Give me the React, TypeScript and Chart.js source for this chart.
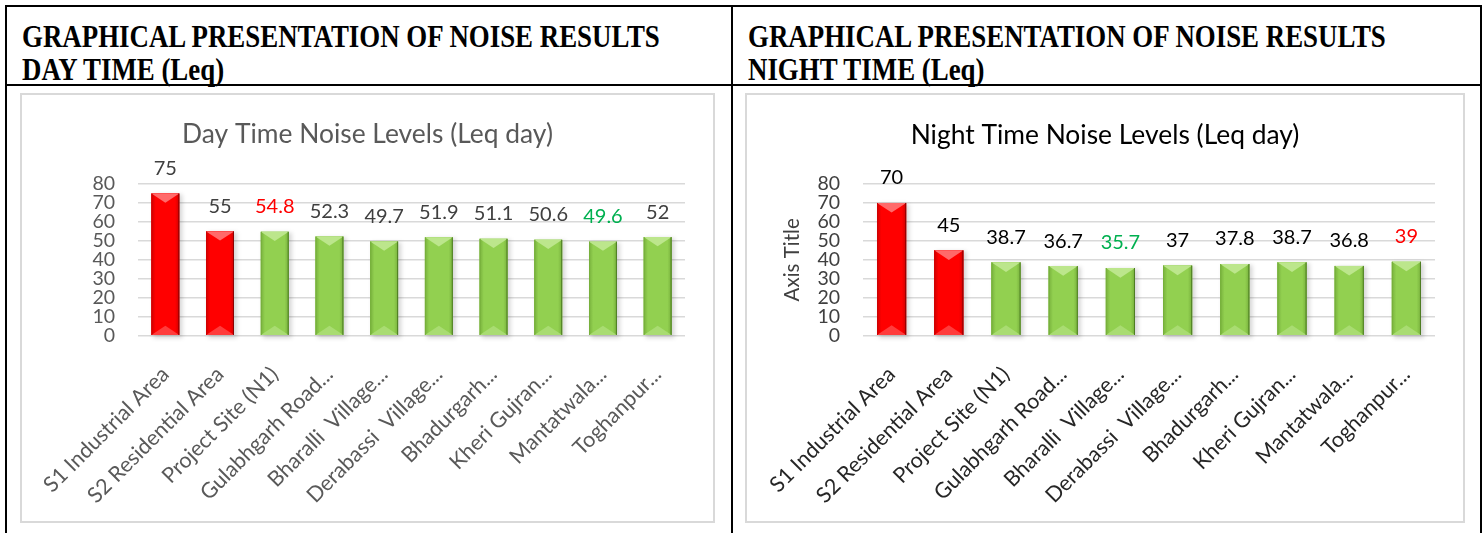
import React, { useEffect, useRef } from 'react';
import { Chart, registerables } from 'chart.js';

Chart.register(...registerables);

const categories = [
  'S1 Industrial Area',
  'S2 Residential Area',
  'Project Site (N1)',
  'Gulabhgarh Road...',
  'Bharalli  Village...',
  'Derabassi  Village...',
  'Bhadurgarh...',
  'Kheri Gujran...',
  'Mantatwala...',
  'Toghanpur...',
];
const dayValues = [75, 55, 54.8, 52.3, 49.7, 51.9, 51.1, 50.6, 49.6, 52];
const nightValues = [70, 45, 38.7, 36.7, 35.7, 37, 37.8, 38.7, 36.8, 39];
const barKinds = ['red', 'red', 'green', 'green', 'green', 'green', 'green', 'green', 'green', 'green'];
const dayLabelColors = ['#404040', '#404040', '#FF0000', '#404040', '#404040', '#404040', '#404040', '#404040', '#00B050', '#404040'];
const nightLabelColors = ['#000000', '#000000', '#000000', '#000000', '#00B050', '#000000', '#000000', '#000000', '#000000', '#FF0000'];
const yMin = 0;
const yMax = 80;
const yStep = 10;

const PALETTE: Record<string, any> = {
  red: { base: '#FF0000', edge: '#D00000', top: '#FF6A6A', bottom: '#FF3C3C', line: '#8C0000' },
  green: { base: '#92D050', edge: '#77B03C', top: '#BCE68C', bottom: '#A9DC72', line: '#4E7D24' },
};

const bevelPlugin = {
  id: 'bevel',
  beforeDatasetsDraw(chart: any) {
    const ctx = chart.ctx;
    const meta = chart.getDatasetMeta(0);
    ctx.save();
    ctx.fillStyle = 'rgba(0,0,0,0.16)';
    ctx.filter = 'blur(2px)';
    meta.data.forEach((bar: any) => {
      const { x, y, base, width } = bar.getProps(['x', 'y', 'base', 'width'], true);
      ctx.fillRect(x - width / 2 + 2, y + 1, width + 1, base - y + 2);
    });
    ctx.restore();
  },
  afterDatasetsDraw(chart: any) {
    const ctx = chart.ctx;
    const meta = chart.getDatasetMeta(0);
    ctx.save();
    meta.data.forEach((bar: any, i: number) => {
      const p = PALETTE[barKinds[i]];
      const { x, y, base, width } = bar.getProps(['x', 'y', 'base', 'width'], true);
      const l = x - width / 2;
      const r = x + width / 2;
      const t = y;
      const b = base;
      const h = b - t;
      const g = ctx.createLinearGradient(l, 0, r, 0);
      g.addColorStop(0, p.edge);
      g.addColorStop(0.15, p.base);
      g.addColorStop(0.85, p.base);
      g.addColorStop(1, p.edge);
      ctx.fillStyle = g;
      ctx.fillRect(l, t, width, h);
      const d = Math.min(width * 0.33, h / 2);
      ctx.fillStyle = p.top;
      ctx.beginPath();
      ctx.moveTo(l, t);
      ctx.lineTo(r, t);
      ctx.lineTo(x, t + d);
      ctx.closePath();
      ctx.fill();
      ctx.fillStyle = p.bottom;
      ctx.beginPath();
      ctx.moveTo(l, b);
      ctx.lineTo(r, b);
      ctx.lineTo(x, b - d);
      ctx.closePath();
      ctx.fill();
      ctx.strokeStyle = p.line;
      ctx.lineWidth = 1;
      ctx.beginPath();
      ctx.moveTo(r - 0.5, t);
      ctx.lineTo(r - 0.5, b);
      ctx.stroke();
      ctx.strokeStyle = p.edge;
      ctx.beginPath();
      ctx.moveTo(l + 0.5, t);
      ctx.lineTo(l + 0.5, b);
      ctx.stroke();
    });
    ctx.restore();
  },
};

const barLabelPlugin = {
  id: 'barLabels',
  afterDatasetsDraw(chart: any, _args: any, opts: any) {
    const ctx = chart.ctx;
    const meta = chart.getDatasetMeta(0);
    const values = chart.data.datasets[0].data;
    ctx.save();
    ctx.font = `${opts.size}px Lato`;
    ctx.textAlign = 'center';
    ctx.textBaseline = 'middle';
    meta.data.forEach((bar: any, i: number) => {
      ctx.fillStyle = opts.colors[i];
      ctx.fillText(String(values[i]), bar.x, bar.y - opts.offset);
    });
    ctx.restore();
  },
};

type PanelProps = {
  left: number;
  top: number;
  width: number;
  height: number;
  values: number[];
  labelColors: string[];
  title: string;
  titleColor: string;
  titleTop: number;
  tickColor: string;
  xLabelColor: string;
  yTitle?: string;
};

function ChartPanel(props: PanelProps) {
  const ref = useRef<HTMLCanvasElement | null>(null);
  useEffect(() => {
    let chart: any = null;
    let cancelled = false;
    const make = () => {
      if (cancelled || !ref.current) return;
      const plotLeft = 116;
      const rightGap = 28;
      const plotTop = 89;
      const plotBottom = 240.7;
      const titleSize = 26.4;
      const titleLH = titleSize * 1.2;
      const tPad = props.titleTop - titleLH / 2;
      const bPad = plotTop - tPad - titleLH;
      chart = new Chart(ref.current, {
        type: 'bar',
        data: {
          labels: categories,
          datasets: [
            {
              data: props.values,
              backgroundColor: barKinds.map((k) => PALETTE[k].base),
              borderWidth: 0,
              categoryPercentage: 1,
              barPercentage: 0.51,
            },
          ],
        },
        plugins: [bevelPlugin, barLabelPlugin],
        options: {
          animation: false,
          responsive: false,
          layout: { padding: 0 },
          plugins: {
            legend: { display: false },
            tooltip: { enabled: false },
            title: {
              display: true,
              text: props.title,
              color: props.titleColor,
              font: { family: 'Lato', size: titleSize, weight: 'normal', lineHeight: 1.2 },
              padding: { top: tPad, bottom: bPad },
            },
            barLabels: { colors: props.labelColors, size: 20, offset: 25 },
          } as any,
          scales: {
            x: {
              grid: { display: false },
              border: { display: false },
              ticks: {
                color: props.xLabelColor,
                font: { family: 'Lato', size: 21.5 },
                minRotation: 45,
                maxRotation: 45,
                autoSkip: false,
                padding: 18,
              },
              afterFit: (s: any) => {
                s.height = props.height - plotBottom;
              },
            },
            y: {
              min: yMin,
              max: yMax,
              ticks: {
                stepSize: yStep,
                autoSkip: false,
                color: props.tickColor,
                font: { family: 'Lato', size: 19.5, lineHeight: 1 },
                padding: 23,
              },
              grid: { color: '#d9d9d9', lineWidth: 1.5, drawTicks: false },
              border: { display: false },
              title: props.yTitle
                ? {
                    display: true,
                    text: props.yTitle,
                    color: '#404040',
                    font: { family: 'Lato', size: 20.5 },
                    padding: { top: 33, bottom: 0 },
                  }
                : { display: false },
              afterFit: (s: any) => {
                s.width = plotLeft;
              },
            },
            yRightSpace: {
              position: 'right',
              display: true,
              grid: { display: false, drawTicks: false },
              border: { display: false },
              ticks: { display: false },
              afterFit: (s: any) => {
                s.width = rightGap;
              },
            },
          },
        } as any,
      });
    };
    const fonts: any = (document as any).fonts;
    if (fonts && fonts.load) {
      Promise.all([fonts.load('20px Lato'), fonts.load('bold 30px "Liberation Serif"')])
        .catch(() => null)
        .then(make);
    } else {
      make();
    }
    return () => {
      cancelled = true;
      if (chart) chart.destroy();
    };
  }, []);
  return (
    <canvas
      ref={ref}
      width={props.width}
      height={props.height}
      style={{ position: 'absolute', left: props.left, top: props.top, width: props.width, height: props.height }}
    />
  );
}

const line = (l: number, t: number, w: number, h: number, c = '#000') => (
  <div style={{ position: 'absolute', left: l, top: t, width: w, height: h, background: c }} />
);

const headerStyle: React.CSSProperties = {
  position: 'absolute',
  top: 20,
  fontFamily: '"Liberation Serif", serif',
  fontWeight: 'bold',
  fontSize: 32,
  lineHeight: '33px',
  whiteSpace: 'nowrap',
  color: '#000',
  transform: 'scaleX(0.84)',
  transformOrigin: 'left top',
};

export default function App() {
  return (
    <div style={{ position: 'absolute', left: 0, top: 0, width: 1483, height: 533, background: '#fff', overflow: 'hidden' }}>
      {line(5, 5, 1477, 2)}
      {line(5, 5, 2, 528)}
      {line(731, 5, 2, 528)}
      {line(1480, 5, 2, 528)}
      {line(5, 84, 1477, 2)}
      <div style={{ ...headerStyle, left: 22 }}>
        GRAPHICAL PRESENTATION OF NOISE RESULTS
        <br />
        DAY TIME (Leq)
      </div>
      <div style={{ ...headerStyle, left: 748 }}>
        GRAPHICAL PRESENTATION OF NOISE RESULTS
        <br />
        NIGHT TIME (Leq)
      </div>
      <div style={{ position: 'absolute', left: 20, top: 93, width: 691, height: 426, border: '2px solid #d9d9d9' }} />
      <div style={{ position: 'absolute', left: 745, top: 93, width: 716, height: 426, border: '2px solid #d9d9d9' }} />
      <ChartPanel
        left={22}
        top={95}
        width={691}
        height={426}
        values={dayValues}
        labelColors={dayLabelColors}
        title="Day Time Noise Levels (Leq day)"
        titleColor="#595959"
        titleTop={39}
        tickColor="#595959"
        xLabelColor="#595959"
      />
      <ChartPanel
        left={747}
        top={95}
        width={716}
        height={426}
        values={nightValues}
        labelColors={nightLabelColors}
        title="Night Time Noise Levels (Leq day)"
        titleColor="#000000"
        titleTop={40}
        tickColor="#404040"
        xLabelColor="#262626"
        yTitle="Axis Title"
      />
    </div>
  );
}
